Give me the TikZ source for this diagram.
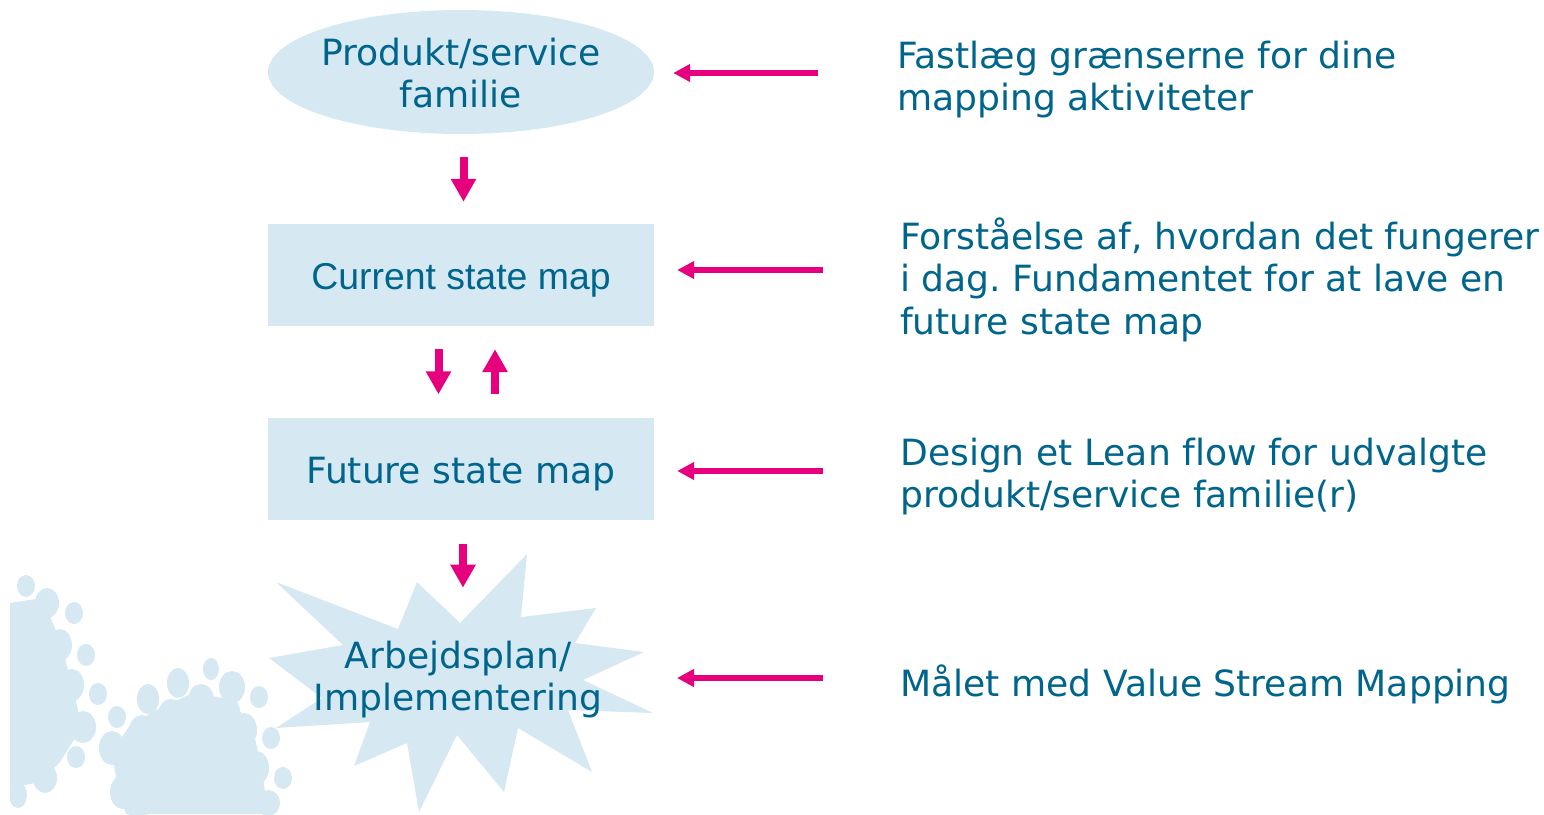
\documentclass[tikz,border=0pt]{standalone}
\usepackage{fontspec}
\setmainfont[Ligatures=NoCommon]{DejaVu Sans}
\newfontfamily\arialfont{Liberation Sans}
\usetikzlibrary{shapes.geometric,arrows.meta}

\definecolor{boxfill}{RGB}{214,232,242}
\definecolor{inktext}{RGB}{0,101,140}
\definecolor{flowpink}{RGB}{230,0,126}

\frenchspacing

% stacked lines whose anchor "base" is the first baseline
\newcommand{\leftlines}[1]{\vtop{\halign{##\hfil\cr#1\crcr}}}
\newcommand{\midlines}[1]{\vtop{\halign{\hfil##\hfil\cr#1\crcr}}}

\tikzset{
  bodyfont/.style={font=\fontsize{36.1}{42.8}\selectfont, text=inktext},
  stagebox/.style={rectangle, draw=none, fill=boxfill, minimum width=386pt,
    minimum height=102pt, inner sep=0pt, bodyfont},
  note/.style={anchor=base west, inner sep=0pt, bodyfont},
  caption/.style={anchor=base, inner sep=0pt, bodyfont},
  downarrow/.style={draw=flowpink, line width=8pt,
    -{Triangle[length=23pt,width=24pt]}},
  sidearrow/.style={draw=flowpink, line width=5.3pt,
    -{Triangle[length=17pt,width=17pt]}},
}

\begin{document}
\begin{tikzpicture}[x=1pt,y=-1pt]
\useasboundingbox (0,0) rectangle (1544,814);

% decorative bubbles, lower left
\begin{scope}
  \clip (10,560) rectangle (300,814);
  \fill[boxfill] (10,603) -- (42,598) -- (60,640) -- (72,685) -- (82,727)
    -- (60,762) -- (40,782) -- (10,788) -- cycle;
  \fill[boxfill] (112,752) -- (130,725) -- (160,708) -- (195,692) -- (230,700)
    -- (252,725) -- (262,770) -- (268,814) -- (126,814) -- (118,790) -- cycle;
  \foreach \cx/\cy/\rx/\ry in {
      26/586/9/11, 47/603/12/15, 74/613/9/11, 18/615/10/12, 60/645/12/16,
      86/655/9/11, 72/685/12/16, 98/694/9/11, 83/727/13/16, 117/717/9/11,
      50/747/13/15, 76/757/9/11, 23/762/12/14, 45/778/12/15, 18/795/9/13,
      35/630/14/16, 35/670/14/16, 45/710/14/16, 30/740/14/16,
      148/699/11/15, 178/683/11/15, 211/669/8/11, 232/687/13/16,
      259/697/9/11, 271/738/9/11, 283/778/9/11, 112/748/13/17,
      142/731/13/16, 171/715/13/16, 201/700/13/16, 227/712/13/16,
      244/730/13/17, 256/768/13/17, 123/792/13/17, 268/803/12/13,
      138/805/13/14}
    \fill[boxfill] (\cx,\cy) ellipse [x radius=\rx pt, y radius=\ry pt];
\end{scope}

% left column
\node[ellipse, fill=boxfill, minimum width=386pt, minimum height=124pt,
  inner sep=0pt] (family) at (461,72) {};
\node[caption] (familytext) at (461,65) {\midlines{Produkt/service\cr familie}};

\node[stagebox, font=\arialfont\fontsize{37.4}{44}\selectfont,
  text height=35pt, text depth=7pt] (current) at (461,275) {Current state map};

\node[stagebox, text height=36pt, text depth=7pt] (future) at (461,468.5)
  {Future state map};

\fill[boxfill] (527,554) -- (521,617) -- (596,608) -- (575,643) -- (644,652)
  -- (583,680) -- (653,713) -- (568,710) -- (592,772) -- (518,728)
  -- (504,792) -- (457,735) -- (419,812) -- (407,743) -- (354,766)
  -- (370,722) -- (276,728) -- (322,698) -- (269,658) -- (343,645)
  -- (276,582) -- (398,629) -- (417,582) -- (460,623) -- cycle;
\node[caption] (plan) at (458,668) {\midlines{Arbejdsplan/\cr Implementering}};

% flow arrows
\draw[downarrow] ([xshift=2.5pt,yshift=-23pt]family.south)
  -- ([xshift=2.5pt,yshift=22pt]current.north);
\draw[downarrow] ([xshift=-22.5pt,yshift=-23pt]current.south)
  -- ([xshift=-22.5pt,yshift=23pt]future.north);
\draw[downarrow] ([xshift=34pt,yshift=23pt]future.north)
  -- ([xshift=34pt,yshift=-23pt]current.south);
\draw[downarrow] ([xshift=2pt,yshift=-24pt]future.south)
  -- ([xshift=2pt,yshift=-68pt]future.south);

% right column notes
\node[note] (note1) at (897,68)
  {\leftlines{Fastlæg grænserne for dine\cr mapping aktiviteter}};
\node[note] (note2) at (900,249)
  {\leftlines{Forståelse af, hvordan det fungerer\cr i dag. Fundamentet for at lave en\cr future state map}};
\node[note] (note3) at (900,465)
  {\leftlines{Design et Lean flow for udvalgte\cr produkt/service familie(r)}};
\node[note] (note4) at (900,696) {Målet med Value Stream Mapping};

\coordinate (tail1) at (818,73);
\coordinate (tail2) at (823,270);
\coordinate (tail3) at (823,471);
\coordinate (tail4) at (823,678);
\coordinate (planeast) at (677,678);

\draw[sidearrow] (tail1) -- ([xshift=19pt,yshift=-1pt]family.east);
\draw[sidearrow] (tail2) -- ([xshift=23pt,yshift=5pt]current.east);
\draw[sidearrow] (tail3) -- ([xshift=23pt,yshift=-2.5pt]future.east);
\draw[sidearrow] (tail4) -- (planeast);
\end{tikzpicture}
\end{document}
